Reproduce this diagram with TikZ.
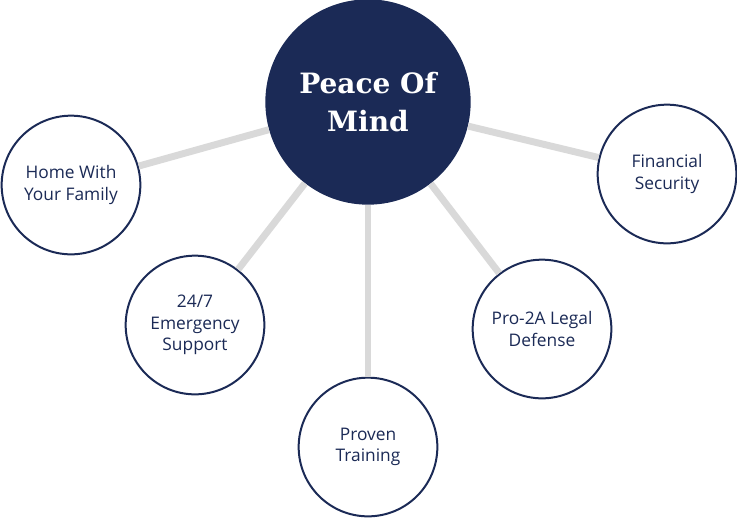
\documentclass[tikz,border=0pt]{standalone}
\usepackage{fontspec}
\setmainfont{Open Sans}
\newfontfamily\slabfont{DejaVu Serif}
\usetikzlibrary{positioning}
\definecolor{navy}{HTML}{1B2A56}
\definecolor{spoke}{HTML}{D9D9D9}

\begin{document}
\begin{tikzpicture}[x=0.75pt, y=-0.75pt,
        hub/.style={circle, fill=navy, text=white, minimum size=154pt, inner sep=0pt, align=center,
            font=\slabfont\bfseries\fontsize{21}{29}\selectfont},
        topic/.style={circle, draw=navy, line width=1.5pt, fill=white, text=navy, minimum size=104pt,
            inner sep=0pt, align=center, font=\fontsize{13}{16}\selectfont},
        link/.style={spoke, line width=5.2pt}
    ]
        \useasboundingbox (0,0) rectangle (737,518);

        \node[hub] (mind) at (368,102) {Peace Of\\Mind};
        \node[topic] (home) at (71,185) {Home With\\Your Family};
        \node[topic] (help) at (195,325) {24/7\\Emergency\\Support};
        \node[topic] (train) at (368,447) {Proven\\Training};
        \node[topic] (legal) at (542,329) {Pro-2A Legal\\Defense};
        \node[topic] (money) at (667,174) {Financial\\Security};

        \foreach \t in {home,help,train,legal,money}
            \draw[link] (mind) -- (\t);
    \end{tikzpicture}
\end{document}
